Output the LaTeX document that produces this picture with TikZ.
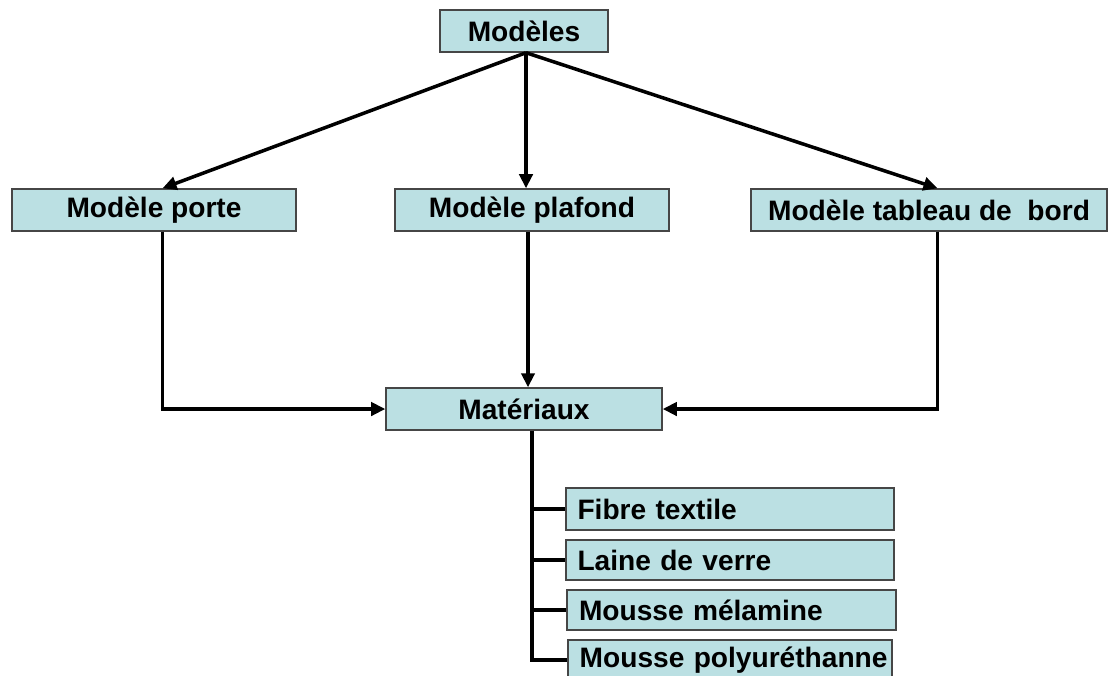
\documentclass[tikz,border=0pt]{standalone}
\usepackage{fontspec}
\setmainfont{Liberation Sans}
\usetikzlibrary{arrows.meta, positioning, calc}

\definecolor{boxfill}{RGB}{187,224,227}
\definecolor{boxline}{RGB}{70,70,70}

\tikzset{
  box/.style={draw=boxline, fill=boxfill, line width=0.8pt, minimum height=0.84cm,
    inner sep=0pt, font=\bfseries\fontsize{16}{18}\selectfont},
  link/.style={line width=2pt, -{Triangle[length=8pt, width=7.5pt]}},
  branch/.style={line width=2pt}
}

\begin{document}
\begin{tikzpicture}
  \useasboundingbox (0,0) rectangle (22.18,-13.5);

  % top level
  \node[box, minimum width=3.36cm] (modeles) at (10.48,-0.62) {Modèles};

  % models
  \node[box, minimum width=5.68cm] (porte) at (3.08,-4.2) {Modèle porte};
  \node[box, minimum width=5.48cm] (plafond) at (10.64,-4.2) {Modèle plafond};
  \node[box, minimum width=7.12cm] (tableau) at (18.58,-4.2) {Modèle tableau de~~bord};

  % materials
  \node[box, minimum width=5.52cm] (materiaux) at (10.48,-8.18) {Matériaux};

  \node[box, minimum width=6.56cm, text width=6.1cm, align=left] (fibre) at (14.6,-10.18) {Fibre textile};
  \node[box, minimum width=6.56cm, minimum height=0.8cm, text width=6.1cm, align=left] (laine) at (14.6,-11.2) {Laine de verre};
  \node[box, minimum width=6.58cm, minimum height=0.8cm, text width=6.1cm, align=left] (melamine) at (14.63,-12.2) {Mousse mélamine};
  \node[box, minimum width=6.48cm, minimum height=0.8cm, text width=6.3cm, align=right] (polyur) at (14.6,-13.2) {Mousse polyuréthanne};

  \coordinate (top-out) at ($(modeles.south)+(0.04,0)$);
  \coordinate (plafond-in) at (top-out |- plafond.north);
  \coordinate (plafond-out) at ($(top-out |- plafond.south)+(0.04,0)$);
  \coordinate (materiaux-in) at (plafond-out |- materiaux.north);
  \coordinate (porte-out) at ($(porte.south)+(0.17,0)$);
  \coordinate (tableau-out) at ($(tableau.south)+(0.17,0)$);
  \coordinate (trunk) at ($(materiaux.south)+(0.16,0)$);

  % arrows from the top
  \draw[link] (top-out) -- (porte-out |- porte.north);
  \draw[link] (top-out) -- (plafond-in);
  \draw[link] (top-out) -- (tableau-out |- tableau.north);

  % arrows into Matériaux
  \draw[link] (porte-out) |- (materiaux.west);
  \draw[link] (tableau-out) |- (materiaux.east);
  \draw[link] (plafond-out) -- (materiaux-in);

  % tree of materials
  \draw[branch] (trunk) -- (trunk |- polyur.west) -- (polyur.west);
  \foreach \m in {fibre, laine, melamine}
    \draw[branch] (trunk |- \m.west) -- (\m.west);
\end{tikzpicture}
\end{document}
